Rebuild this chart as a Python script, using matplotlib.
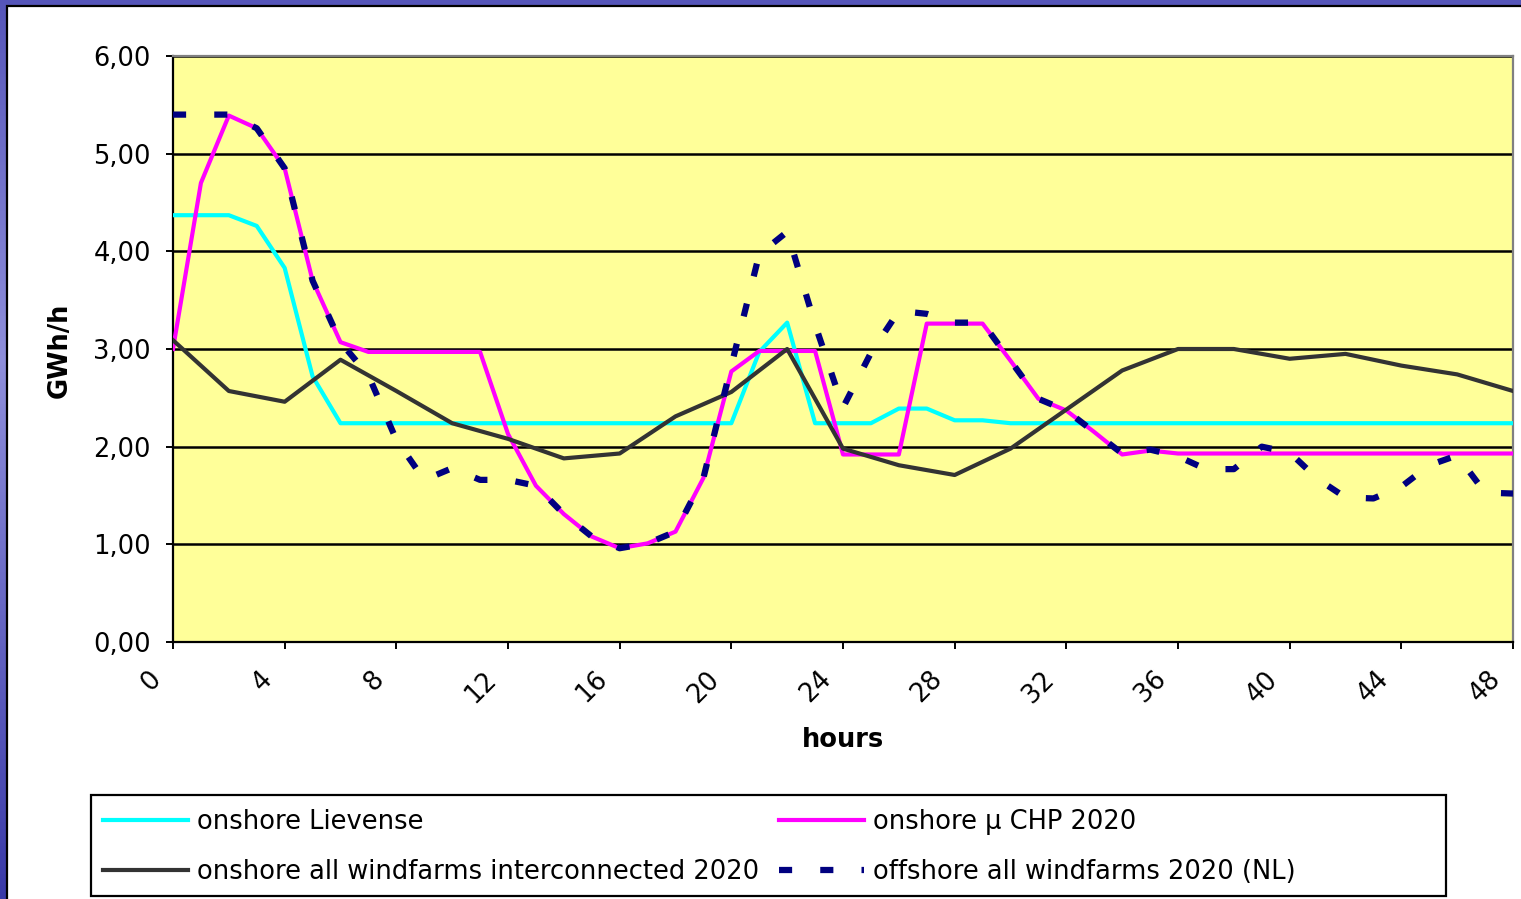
import numpy as np
import matplotlib
matplotlib.use("Agg")
import matplotlib.pyplot as plt
import matplotlib.transforms as mtransforms
from matplotlib.patches import Rectangle

# ── Hourly production profiles (GWh/h) ───────────────────────────────────
HOURS = list(range(49))
HOURS_2H = list(range(0, 49, 2))

LIEVENSE = [4.37, 4.37, 4.37, 4.26, 3.83, 2.72, 2.24, 2.24, 2.24, 2.24,
            2.24, 2.24, 2.24, 2.24, 2.24, 2.24, 2.24, 2.24, 2.24, 2.24,
            2.24, 2.97, 3.27, 2.24, 2.24, 2.24, 2.39, 2.39, 2.27, 2.27,
            2.24, 2.24, 2.24, 2.24, 2.24, 2.24, 2.24, 2.24, 2.24, 2.24,
            2.24, 2.24, 2.24, 2.24, 2.24, 2.24, 2.24, 2.24, 2.24]

MICRO_CHP = [3.00, 4.70, 5.39, 5.26, 4.85, 3.70, 3.07, 2.97, 2.97, 2.97,
             2.97, 2.97, 2.13, 1.60, 1.31, 1.08, 0.96, 1.01, 1.13, 1.68,
             2.77, 2.98, 2.98, 2.98, 1.92, 1.92, 1.92, 3.26, 3.26, 3.26,
             2.88, 2.49, 2.37, 2.15, 1.92, 1.96, 1.93, 1.93, 1.93, 1.93,
             1.93, 1.93, 1.93, 1.93, 1.93, 1.93, 1.93, 1.93, 1.93]

# interconnected windfarms are only given every two hours
INTERCONNECTED = [3.09, 2.57, 2.46, 2.89, 2.57, 2.24, 2.08, 1.88, 1.93,
                  2.31, 2.56, 3.00, 1.98, 1.81, 1.71, 1.98, 2.38, 2.78,
                  3.00, 3.00, 2.90, 2.95, 2.83, 2.74, 2.57]

OFFSHORE = [5.40, 5.40, 5.40, 5.26, 4.85, 3.70, 3.07, 2.73, 2.07, 1.66,
            1.78, 1.66, 1.66, 1.60, 1.31, 1.08, 0.96, 1.01, 1.13, 1.68,
            2.83, 3.97, 4.20, 3.25, 2.40, 2.96, 3.39, 3.36, 3.27, 3.27,
            2.88, 2.49, 2.37, 2.15, 1.93, 1.97, 1.90, 1.77, 1.77, 2.00,
            1.94, 1.67, 1.48, 1.47, 1.59, 1.81, 1.91, 1.53, 1.52]

LABELS = ["onshore Lievense", "onshore \u00b5 CHP 2020",
          "onshore all windfarms interconnected 2020",
          "offshore all windfarms 2020 (NL)"]

W, H = 1521, 899
FS = 18.5

plt.rcParams["font.family"] = ["DejaVu Sans"]

fig = plt.figure(figsize=(W / 100, H / 100), dpi=100)

# blue slide background with a lighter band, white chart panel on top
bg = fig.add_axes([0, 0, 1, 1], zorder=-10)
grad = np.linspace(0, 1, 256)
shade = np.clip(1 - np.abs(grad - 0.4) * 1.4, 0, 1)
img = np.zeros((256, 1, 3))
img[:, 0, 0] = 0.16 + 0.40 * shade
img[:, 0, 1] = 0.16 + 0.40 * shade
img[:, 0, 2] = 0.62 + 0.24 * shade
bg.imshow(img, aspect="auto", extent=[0, 1, 0, 1])
bg.axis("off")
fig.patches.append(Rectangle((7 / W, -0.02), 1.05, 1.02 - 6 / H,
                             transform=fig.transFigure, facecolor="white",
                             edgecolor="black", linewidth=1.6, zorder=-5))

ax = fig.add_axes([173 / W, 1 - 642 / H, 1340 / W, 586 / H])
ax.set_facecolor("#FFFF99")

ax.plot(HOURS, LIEVENSE, color="#00FFFF", lw=3.0, label=LABELS[0], zorder=3)
ax.plot(HOURS, MICRO_CHP, color="#FF00FF", lw=3.0, label=LABELS[1], zorder=4)
ax.plot(HOURS_2H, INTERCONNECTED, color="#333333", lw=3.0, label=LABELS[2],
        zorder=5)
ax.plot(HOURS, OFFSHORE, color="#000080", lw=4.5, ls=(0, (2.1, 4.5)),
        dash_capstyle="butt", label=LABELS[3], zorder=6)

ax.set_xlim(0, 48)
ax.set_ylim(0, 6)
ax.set_xticks(range(0, 49, 4))
ax.set_yticks(range(0, 7))
ax.set_yticklabels([f"{v:.2f}".replace(".", ",") for v in range(0, 7)])
ax.yaxis.grid(True, color="black", lw=1.8)
ax.set_axisbelow(True)

for side in ("left", "bottom"):
    ax.spines[side].set_color("black")
    ax.spines[side].set_linewidth(1.6)
for side in ("top", "right"):
    ax.spines[side].set_color("#808080")
    ax.spines[side].set_linewidth(1.6)

ax.tick_params(axis="y", direction="out", length=5, width=1.4,
               labelsize=FS, pad=11)
ax.tick_params(axis="x", direction="out", length=5, width=1.4,
               labelsize=FS, pad=19)
shift = mtransforms.ScaledTranslation(-0.16, 0, fig.dpi_scale_trans)
for lab in ax.get_xticklabels():
    lab.set_rotation(45)
    lab.set_rotation_mode("anchor")
    lab.set_ha("right")
    lab.set_va("center")
    lab.set_transform(lab.get_transform() + shift)

fig.text(843 / W, 1 - 740 / H, "hours", ha="center", va="center",
         fontsize=FS, fontweight="bold")
fig.text(60 / W, 1 - 350 / H, "GWh/h", ha="center", va="center",
         rotation=90, fontsize=FS, fontweight="bold")

# legend: frameless, boxed by a separate rectangle
handles, labels = ax.get_legend_handles_labels()
order = [0, 2, 1, 3]
fig.legend([handles[i] for i in order], [labels[i] for i in order],
           ncol=2, loc="upper left", bbox_to_anchor=(103 / W, 1 - 809 / H),
           frameon=False, fontsize=FS, borderpad=0, borderaxespad=0,
           handlelength=3.3, handletextpad=0.35, columnspacing=0.8,
           labelspacing=0.92)
fig.patches.append(Rectangle((91 / W, 1 - 896 / H), 1355 / W, 101 / H,
                             transform=fig.transFigure, facecolor="none",
                             edgecolor="black", linewidth=1.6))

fig.savefig("out.png", dpi=100)
